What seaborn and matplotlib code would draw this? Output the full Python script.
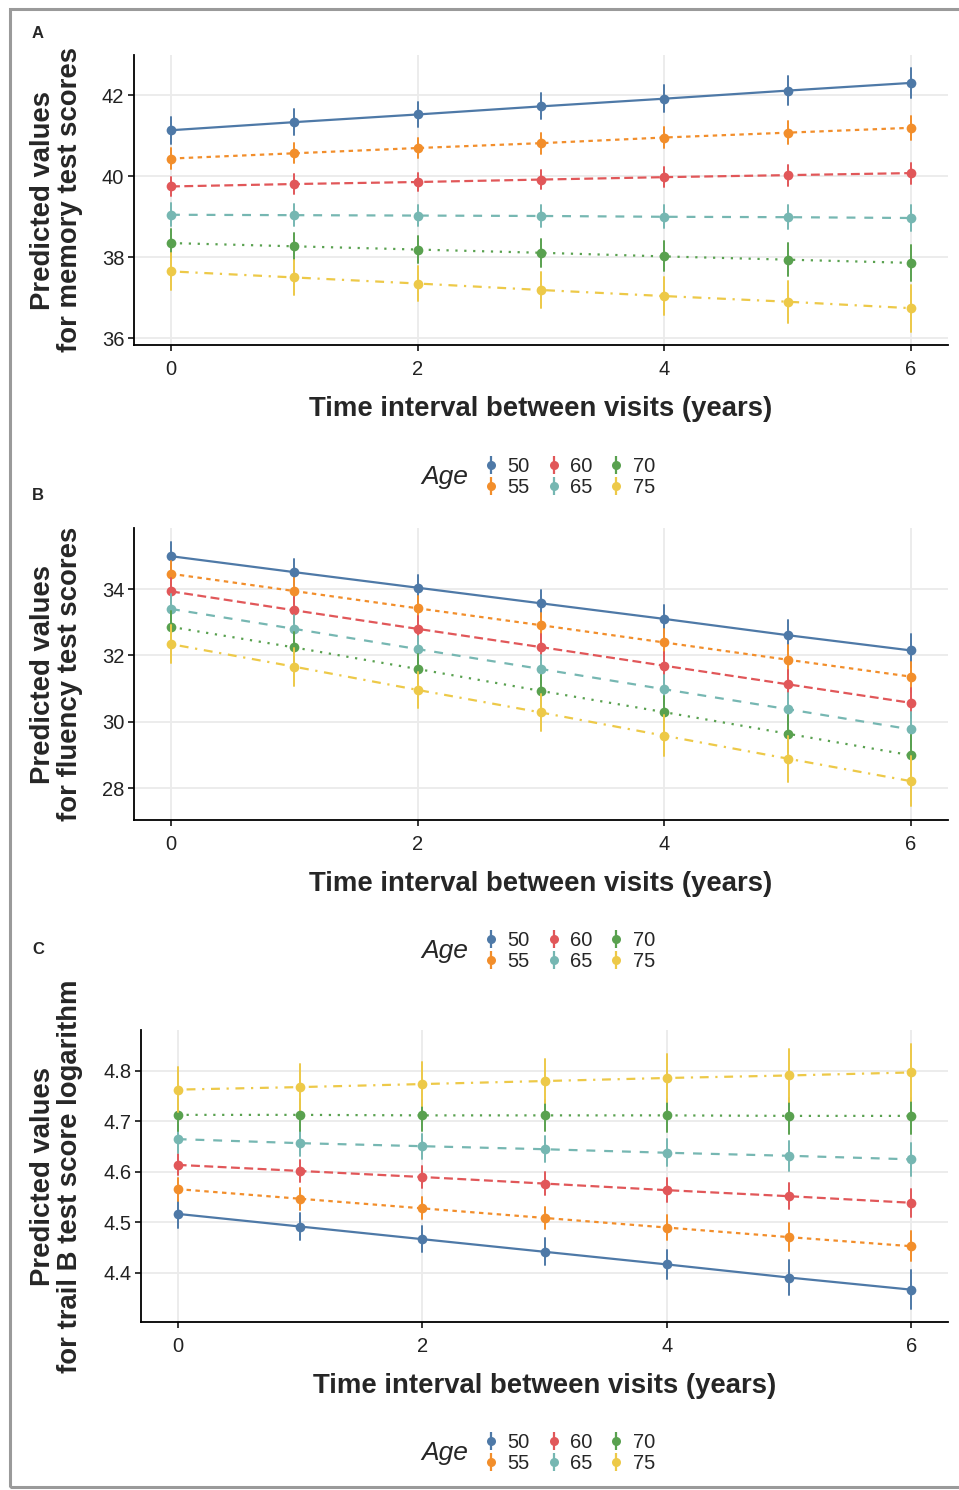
import numpy as np
import pandas as pd
import matplotlib
matplotlib.use("Agg")
import matplotlib.pyplot as plt
import seaborn as sns
from matplotlib.lines import Line2D
from matplotlib.patches import Rectangle

# data
years = [0, 1, 2, 3, 4, 5, 6]
ages = ["50", "55", "60", "65", "70", "75"]

# panel A: memory test scores (predicted value, half-width of interval)
memory_fit = {
    "50": [41.14, 41.34, 41.53, 41.73, 41.92, 42.12, 42.31],
    "55": [40.44, 40.57, 40.70, 40.82, 40.96, 41.08, 41.20],
    "60": [39.75, 39.81, 39.86, 39.92, 39.98, 40.03, 40.08],
    "65": [39.05, 39.04, 39.03, 39.02, 39.00, 38.99, 38.97],
    "70": [38.35, 38.27, 38.19, 38.11, 38.02, 37.94, 37.86],
    "75": [37.65, 37.50, 37.35, 37.19, 37.04, 36.90, 36.74],
}
memory_err = {
    "50": [0.33, 0.32, 0.31, 0.32, 0.33, 0.35, 0.38],
    "55": [0.25, 0.25, 0.25, 0.26, 0.26, 0.28, 0.29],
    "60": [0.23, 0.24, 0.23, 0.24, 0.24, 0.26, 0.26],
    "65": [0.29, 0.27, 0.26, 0.27, 0.28, 0.30, 0.33],
    "70": [0.36, 0.34, 0.33, 0.35, 0.37, 0.40, 0.44],
    "75": [0.46, 0.44, 0.43, 0.44, 0.47, 0.52, 0.58],
}

# panel B: fluency test scores
fluency_fit = {
    "50": [34.99, 34.51, 34.04, 33.57, 33.10, 32.61, 32.15],
    "55": [34.46, 33.94, 33.42, 32.91, 32.39, 31.87, 31.36],
    "60": [33.93, 33.36, 32.80, 32.25, 31.69, 31.13, 30.57],
    "65": [33.40, 32.80, 32.19, 31.59, 30.98, 30.38, 29.77],
    "70": [32.86, 32.24, 31.59, 30.93, 30.29, 29.64, 28.99],
    "75": [32.34, 31.66, 30.96, 30.28, 29.58, 28.89, 28.21],
}
fluency_err = {
    "50": [0.42, 0.39, 0.39, 0.41, 0.43, 0.46, 0.49],
    "55": [0.40, 0.38, 0.37, 0.38, 0.40, 0.43, 0.45],
    "60": [0.41, 0.39, 0.38, 0.39, 0.41, 0.44, 0.46],
    "65": [0.44, 0.42, 0.41, 0.42, 0.44, 0.48, 0.52],
    "70": [0.49, 0.47, 0.46, 0.47, 0.50, 0.55, 0.60],
    "75": [0.58, 0.57, 0.53, 0.57, 0.61, 0.69, 0.76],
}

# panel C: trail B test score logarithm
trail_fit = {
    "50": [4.517, 4.492, 4.467, 4.442, 4.417, 4.391, 4.367],
    "55": [4.566, 4.547, 4.528, 4.509, 4.490, 4.471, 4.453],
    "60": [4.614, 4.602, 4.590, 4.577, 4.564, 4.552, 4.539],
    "65": [4.665, 4.657, 4.651, 4.645, 4.638, 4.632, 4.625],
    "70": [4.713, 4.713, 4.712, 4.712, 4.712, 4.711, 4.711],
    "75": [4.763, 4.768, 4.774, 4.780, 4.786, 4.791, 4.797],
}
trail_err = {
    "50": [0.028, 0.026, 0.026, 0.027, 0.029, 0.034, 0.039],
    "55": [0.023, 0.022, 0.022, 0.022, 0.024, 0.027, 0.030],
    "60": [0.021, 0.021, 0.021, 0.022, 0.024, 0.026, 0.028],
    "65": [0.027, 0.026, 0.025, 0.026, 0.027, 0.030, 0.033],
    "70": [0.032, 0.031, 0.030, 0.031, 0.033, 0.036, 0.036],
    "75": [0.045, 0.045, 0.043, 0.044, 0.047, 0.052, 0.057],
}

colors = {"50": "#4E79A7", "55": "#F28E2B", "60": "#E15759",
          "65": "#76B7B2", "70": "#59A14F", "75": "#EDC948"}
# ggplot linetypes: solid, 22, 42, 44, 13, 1343
dashes = {"50": "", "55": (2, 2), "60": (4, 2), "65": (4, 4),
          "70": (1, 3), "75": (1, 3, 4, 3)}

W, H = 959, 1490
FONT = "Liberation Sans"

sns.set_theme(style="white")
plt.rcParams["font.family"] = [FONT, "DejaVu Sans"]


def long_table(fit, err):
    # two rows per point (lower and upper end), so mean = fit and range = interval
    rows = []
    for a in ages:
        for t, v, e in zip(years, fit[a], err[a]):
            rows.append((t, v - e, a))
            rows.append((t, v + e, a))
    return pd.DataFrame(rows, columns=["time", "value", "age"])


fig = plt.figure(figsize=(W / 100, H / 100), dpi=100)

panels = [
    # left, top, bottom (pixels), data, ylabel, ylim, yticks, letter
    (134, 55, 345, memory_fit, memory_err,
     "Predicted values\nfor memory test scores", (35.83, 43.0), [36, 38, 40, 42], "A", 33, 477),
    (134, 528, 820, fluency_fit, fluency_err,
     "Predicted values\nfor fluency test scores", (27.04, 35.84), [28, 30, 32, 34], "B", 496, 951),
    (141, 1030, 1322, trail_fit, trail_err,
     "Predicted values\nfor trail B test score logarithm", (4.303, 4.881),
     [4.4, 4.5, 4.6, 4.7, 4.8], "C", 950, 1453),
]

for left, top, bottom, fit, err, ylab, ylim, yticks, letter, ly, legy in panels:
    ax = fig.add_axes([left / W, 1 - bottom / H, (948 - left) / W, (bottom - top) / H])
    df = long_table(fit, err)
    sns.lineplot(data=df, x="time", y="value", hue="age", style="age",
                 hue_order=ages, style_order=ages, palette=colors, dashes=dashes,
                 markers={a: "o" for a in ages}, markersize=7, markeredgewidth=0,
                 linewidth=1.6, estimator="mean", errorbar=("pi", 100),
                 err_style="bars", err_kws={"elinewidth": 1.4, "capsize": 0},
                 legend=False, ax=ax)

    ax.set_xlim(-0.3, 6.3)
    ax.set_ylim(*ylim)
    ax.set_xticks([0, 2, 4, 6])
    ax.set_yticks(yticks)
    ax.grid(True, color="#EBEBEB", linewidth=1.3)
    ax.set_axisbelow(True)
    for s in ["top", "right"]:
        ax.spines[s].set_visible(False)
    for s in ["left", "bottom"]:
        ax.spines[s].set_color("black")
        ax.spines[s].set_linewidth(1.3)
    ax.tick_params(axis="both", colors="black", labelcolor="#222222", labelsize=14.5,
                   length=4, width=1.1, direction="out", left=True, bottom=True)
    ax.tick_params(axis="x", pad=7)
    ax.tick_params(axis="y", pad=3)

    ax.set_xlabel("Time interval between visits (years)", fontsize=19.8,
                  fontweight="bold", labelpad=12)
    ax.set_ylabel(ylab, fontsize=19.8, fontweight="bold", linespacing=1.05)
    ax.yaxis.set_label_coords((83 - left) / (948 - left), 0.5)

    fig.text(38 / W, 1 - ly / H, letter, fontsize=12, fontweight="bold",
             ha="center", va="center")

    # legend below the panel: title on the left, pointrange keys
    fig.text(445 / W, 1 - legy / H, "Age", fontsize=19, fontstyle="italic",
             ha="center", va="center")
    handles = [(Line2D([], [], ls="none", marker="|", markersize=13, mew=1.6, color=colors[a]),
                Line2D([], [], ls="none", marker="o", markersize=6.5, mew=0, color=colors[a]))
               for a in ages]
    fig.legend(handles, ages, loc="center", bbox_to_anchor=(569 / W, 1 - legy / H),
               ncol=3, frameon=False, fontsize=14.5, handlelength=0.8,
               handletextpad=0.4, columnspacing=0.8, labelspacing=0.08,
               borderpad=0, borderaxespad=0)

# grey frame around the figure
fig.patches.append(Rectangle((10 / W, 3 / H), 1.0, 1 - 12 / H, transform=fig.transFigure,
                             fill=False, edgecolor="#9A9A9A", linewidth=2.2))

fig.savefig("out.png", dpi=100)
